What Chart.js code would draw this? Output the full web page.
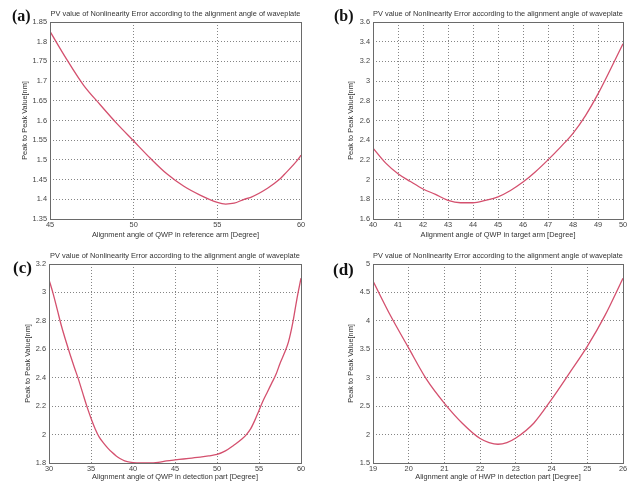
<!DOCTYPE html>
<html>
<head>
<meta charset="utf-8">
<script src="https://cdn.jsdelivr.net/npm/chart.js@4.4.1/dist/chart.umd.min.js"></script>
<style>
    body { margin: 0; background: #fff; }
    #wrap { position: relative; width: 636px; height: 485px; }
    .panel { position: absolute; }
</style>
</head>
<body>
<div id="wrap">
    <div class="panel" style="left:0;top:0"><canvas id="chartA" width="318" height="242"></canvas></div>
    <div class="panel" style="left:318px;top:0"><canvas id="chartB" width="318" height="242"></canvas></div>
    <div class="panel" style="left:0;top:242px"><canvas id="chartC" width="318" height="243"></canvas></div>
    <div class="panel" style="left:318px;top:242px"><canvas id="chartD" width="318" height="243"></canvas></div>
</div>
<script>
const plotTitle = 'PV value of Nonlinearity Error according to the alignment angle of waveplate';
const yTitle = 'Peak to Peak Value[nm]';

// (a) QWP in reference arm
const angleA = [45, 46, 47, 48, 49, 50, 51, 52, 53, 54, 55, 55.5, 56, 56.6, 57, 58, 58.7, 59, 59.8, 60];
const pvA = [1.826, 1.755, 1.690, 1.640, 1.592, 1.548, 1.504, 1.464, 1.433, 1.410, 1.392, 1.388, 1.390, 1.400, 1.405, 1.428, 1.450, 1.463, 1.500, 1.512];

// (b) QWP in target arm
const angleB = [40, 40.5, 41, 41.5, 42, 42.5, 43, 43.5, 44, 44.5, 45, 45.5, 46, 46.5, 47, 47.5, 48, 48.5, 49, 49.5, 50];
const pvB = [2.32, 2.17, 2.06, 1.98, 1.905, 1.85, 1.79, 1.765, 1.765, 1.79, 1.825, 1.89, 1.975, 2.08, 2.20, 2.33, 2.47, 2.65, 2.87, 3.12, 3.38];

// (c) QWP in detection part
const angleC = [30, 30.5, 31, 31.5, 32, 32.5, 33, 33.5, 34, 34.5, 35, 35.5, 36, 36.5, 37, 37.5, 38, 38.5, 39, 40, 41, 42, 43, 44, 45, 46, 47, 48, 49, 50, 51, 52, 53, 53.5, 54, 54.5, 55, 55.5, 56, 56.5, 57, 57.5, 58, 58.5, 59, 59.5, 60];
const pvC = [3.09, 2.99, 2.875, 2.76, 2.66, 2.565, 2.475, 2.39, 2.295, 2.20, 2.115, 2.04, 1.98, 1.94, 1.905, 1.875, 1.85, 1.83, 1.815, 1.803, 1.80, 1.80, 1.805, 1.815, 1.822, 1.828, 1.835, 1.842, 1.85, 1.86, 1.885, 1.925, 1.97, 2.0, 2.04, 2.10, 2.17, 2.24, 2.30, 2.36, 2.42, 2.50, 2.57, 2.65, 2.78, 2.95, 3.10];

// (d) HWP in detection part
const angleD = [19, 19.5, 20, 20.5, 21, 21.5, 22, 22.25, 22.5, 22.75, 23, 23.5, 24, 24.5, 25, 25.5, 26];
const pvD = [4.70, 4.08, 3.52, 2.97, 2.55, 2.20, 1.93, 1.86, 1.83, 1.86, 1.94, 2.20, 2.62, 3.08, 3.55, 4.10, 4.75];

const panels = [
    { id: 'chartA', tag: '(a)', xs: angleA, ys: pvA, xMin: 45, xMax: 60, xStep: 5, yMin: 1.35, yMax: 1.85, yStep: 0.05,
      xLabel: 'Alignment angle of QWP in reference arm [Degree]', left: 50, right: 17, xh: 23, yTitlePad: 21, xTitlePad: 3,
      tagX: 12, tagY: 17, tagSize: 16 },
    { id: 'chartB', tag: '(b)', xs: angleB, ys: pvB, xMin: 40, xMax: 50, xStep: 1, yMin: 1.6, yMax: 3.6, yStep: 0.2,
      xLabel: 'Alignment angle of QWP in target arm [Degree]', left: 55, right: 13, xh: 23, yTitlePad: 29, xTitlePad: 3,
      tagX: 16, tagY: 17, tagSize: 16 },
    { id: 'chartC', tag: '(c)', xs: angleC, ys: pvC, xMin: 30, xMax: 60, xStep: 5, yMin: 1.8, yMax: 3.2, yStep: 0.2,
      xLabel: 'Alignment angle of QWP in detection part [Degree]', left: 49, right: 17, xh: 22, yTitlePad: 24, xTitlePad: 4,
      tagX: 13, tagY: 27, tagSize: 17 },
    { id: 'chartD', tag: '(d)', xs: angleD, ys: pvD, xMin: 19, xMax: 26, xStep: 1, yMin: 1.5, yMax: 5, yStep: 0.5,
      xLabel: 'Alignment angle of HWP in detection part [Degree]', left: 55, right: 13, xh: 22, yTitlePad: 29, xTitlePad: 4,
      tagX: 15, tagY: 29, tagSize: 17 }
];

// draws the box round the plot, the title above it and the (a)/(b) tag
const panelText = {
    id: 'panelText',
    afterDraw(chart, args, opts) {
        const { ctx, chartArea } = chart;
        ctx.save();
        ctx.strokeStyle = '#6a6a6a';
        ctx.lineWidth = 1;
        ctx.strokeRect(Math.round(chartArea.left) + 0.5, Math.round(chartArea.top) + 0.5,
            Math.round(chartArea.right - chartArea.left), Math.round(chartArea.bottom - chartArea.top));
        ctx.fillStyle = '#333';
        ctx.font = '7.4px "Liberation Sans", Arial, sans-serif';
        ctx.textAlign = 'center';
        ctx.textBaseline = 'middle';
        ctx.fillText(plotTitle, (chartArea.left + chartArea.right) / 2, chartArea.top - 8);
        ctx.fillStyle = '#111';
        ctx.font = 'bold ' + opts.tagSize + 'px "Liberation Serif", "Times New Roman", serif';
        ctx.textAlign = 'left';
        ctx.fillText(opts.tag, opts.tagX, opts.tagY);
        ctx.restore();
    }
};

const tickFont = { family: '"Liberation Sans", Arial, sans-serif', size: 7.4 };
const gridStyle = { color: '#666', lineWidth: 0.8, drawTicks: false };

function makeChart(p) {
    const points = p.xs.map((x, i) => ({ x: x, y: p.ys[i] }));
    return new Chart(document.getElementById(p.id), {
        type: 'line',
        data: {
            datasets: [{
                data: points,
                borderColor: '#d4506e',
                borderWidth: 1.3,
                pointRadius: 0,
                fill: false,
                cubicInterpolationMode: 'monotone'
            }]
        },
        options: {
            responsive: false,
            animation: false,
            layout: { padding: { top: 22, right: p.right, left: 0, bottom: 0 } },
            plugins: {
                legend: { display: false },
                tooltip: { enabled: false },
                panelText: { tag: p.tag, tagX: p.tagX, tagY: p.tagY, tagSize: p.tagSize }
            },
            scales: {
                x: {
                    type: 'linear',
                    min: p.xMin,
                    max: p.xMax,
                    grid: gridStyle,
                    border: { display: false, dash: [1, 2] },
                    ticks: { stepSize: p.xStep, font: tickFont, color: '#444', padding: 2, maxRotation: 0,
                        callback: v => String(Math.round(v * 1000) / 1000) },
                    title: { display: true, text: p.xLabel, font: tickFont, color: '#333',
                        padding: { top: 0, bottom: p.xTitlePad } },
                    afterFit: s => { s.height = p.xh; }
                },
                y: {
                    type: 'linear',
                    min: p.yMin,
                    max: p.yMax,
                    grid: gridStyle,
                    border: { display: false, dash: [1, 2] },
                    ticks: { stepSize: p.yStep, font: tickFont, color: '#444', padding: 3,
                        callback: v => String(Math.round(v * 1000) / 1000) },
                    title: { display: true, text: yTitle, font: tickFont, color: '#333',
                        padding: { top: p.yTitlePad, bottom: 0 } },
                    afterFit: s => { s.width = p.left; }
                }
            }
        },
        plugins: [panelText]
    });
}

const charts = panels.map(makeChart);
</script>
</body>
</html>
